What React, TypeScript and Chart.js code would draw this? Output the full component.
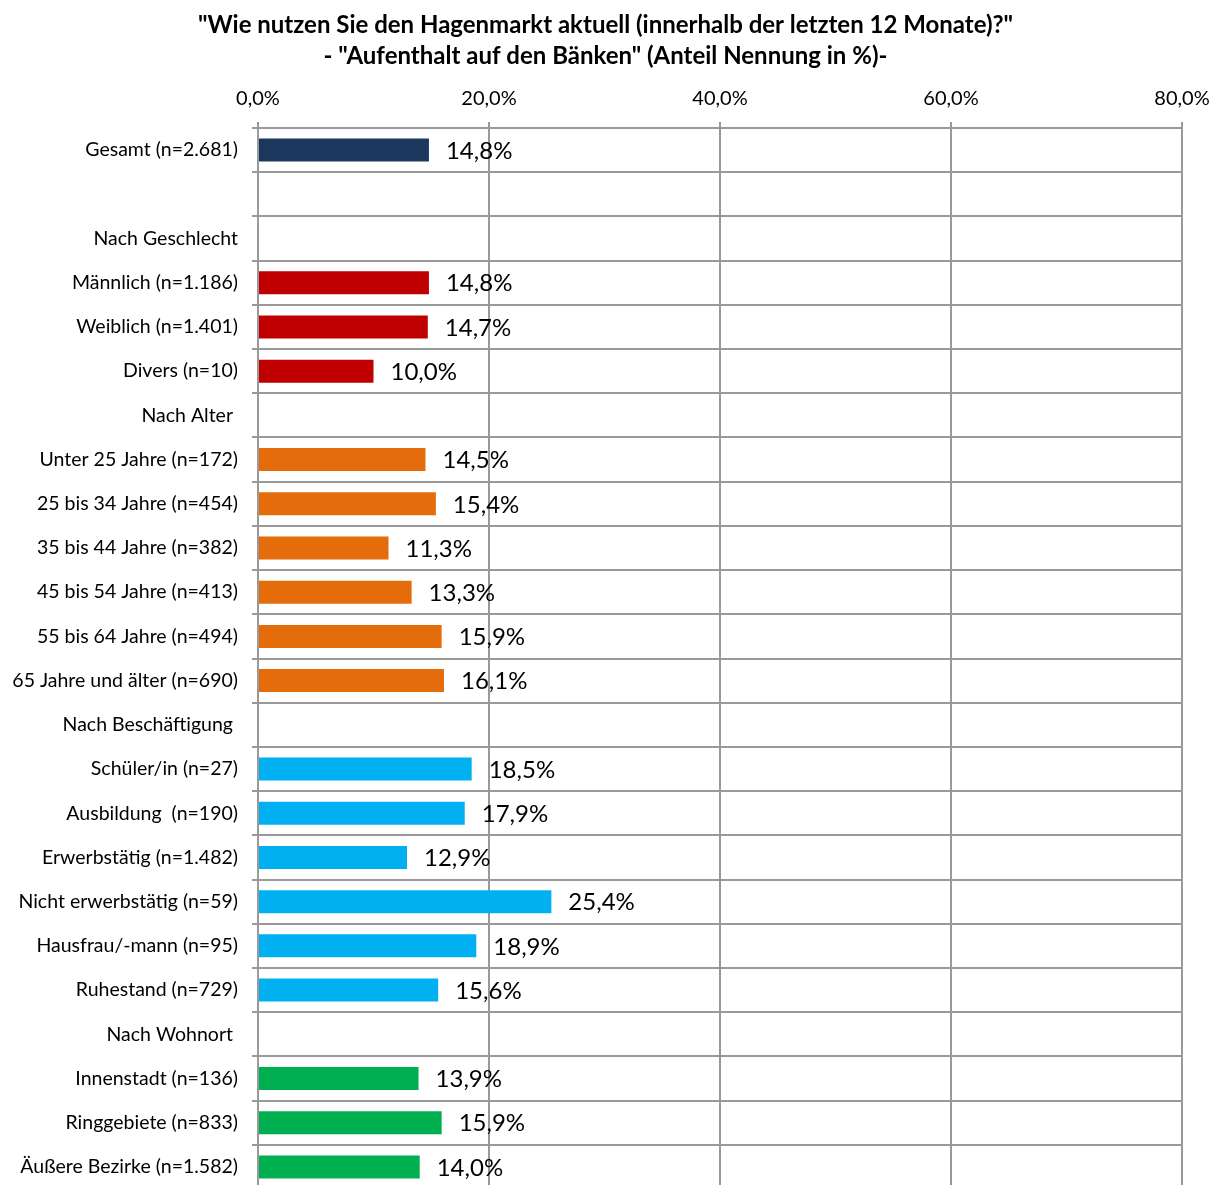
import React, { useEffect, useRef } from "react";
import { Chart, registerables } from "chart.js";

Chart.register(...registerables);

const categories: string[] = [
  "Gesamt (n=2.681)",
  "",
  "Nach Geschlecht",
  "Männlich (n=1.186)",
  "Weiblich (n=1.401)",
  "Divers (n=10)",
  "Nach Alter ",
  "Unter 25 Jahre (n=172)",
  "25 bis 34 Jahre (n=454)",
  "35 bis 44 Jahre (n=382)",
  "45 bis 54 Jahre (n=413)",
  "55 bis 64 Jahre (n=494)",
  "65 Jahre und älter (n=690)",
  "Nach Beschäftigung ",
  "Schüler/in (n=27)",
  "Ausbildung  (n=190)",
  "Erwerbstätig (n=1.482)",
  "Nicht erwerbstätig (n=59)",
  "Hausfrau/-mann (n=95)",
  "Ruhestand (n=729)",
  "Nach Wohnort ",
  "Innenstadt (n=136)",
  "Ringgebiete (n=833)",
  "Äußere Bezirke (n=1.582)",
];

const values: (number | null)[] = [
  14.8, null, null, 14.8, 14.7, 10.0, null, 14.5, 15.4, 11.3, 13.3, 15.9, 16.1,
  null, 18.5, 17.9, 12.9, 25.4, 18.9, 15.6, null, 13.9, 15.9, 14.0,
];

const groups: string[] = [
  "gesamt", "", "", "geschlecht", "geschlecht", "geschlecht", "", "alter", "alter",
  "alter", "alter", "alter", "alter", "", "beruf", "beruf", "beruf", "beruf", "beruf",
  "beruf", "", "wohnort", "wohnort", "wohnort",
];

const groupColors: Record<string, string> = {
  gesamt: "#1b375e",
  geschlecht: "#c00000",
  alter: "#e46c0a",
  beruf: "#00b0f0",
  wohnort: "#00b050",
  "": "#ffffff",
};

const xTicks: number[] = [0, 20, 40, 60, 80];

const titleLines: string[] = [
  "\"Wie nutzen Sie den Hagenmarkt aktuell (innerhalb der letzten 12 Monate)?\"",
  "- \"Aufenthalt auf den Bänken\" (Anteil Nennung in %)-",
];

const fmt = (v: number) => v.toFixed(1).replace(".", ",") + "%";

const FONT = "Lato, 'Noto Sans', sans-serif";

const valueLabels = {
  id: "valueLabels",
  afterDatasetsDraw(chart: any) {
    const ctx = chart.ctx;
    const meta = chart.getDatasetMeta(0);
    ctx.save();
    ctx.font = `24px ${FONT}`;
    ctx.fillStyle = "#000";
    ctx.textAlign = "left";
    ctx.textBaseline = "middle";
    meta.data.forEach((el: any, i: number) => {
      const v = values[i];
      if (v === null || v === undefined) return;
      ctx.fillText(fmt(v), el.x + 17, el.y + 1);
    });
    ctx.restore();
  },
};

const titleDraw = {
  id: "titleDraw",
  afterDraw(chart: any) {
    const ctx = chart.ctx;
    ctx.save();
    ctx.font = `bold 24px ${FONT}`;
    ctx.fillStyle = "#000";
    ctx.textAlign = "center";
    ctx.textBaseline = "middle";
    titleLines.forEach((line, i) => {
      ctx.fillText(line, chart.width / 2, 25 + i * 31);
    });
    ctx.restore();
  },
};

export default function App() {
  const ref = useRef<HTMLCanvasElement | null>(null);
  useEffect(() => {
    if (!ref.current) return;
    const chart = new Chart(ref.current, {
      type: "bar",
      data: {
        labels: categories,
        datasets: [
          {
            data: values as any,
            backgroundColor: groups.map((g) => groupColors[g]),
            categoryPercentage: 1,
            barPercentage: 0.52,
          },
        ],
      },
      options: {
        indexAxis: "y",
        responsive: false,
        animation: false,
        devicePixelRatio: 1,
        layout: { padding: { left: 0, right: 29, top: 78, bottom: 1 } },
        plugins: {
          legend: { display: false },
          tooltip: { enabled: false },
          title: { display: false },
        },
        scales: {
          x: {
            position: "top",
            min: 0,
            max: 80,
            afterBuildTicks: (scale: any) => {
              scale.ticks = xTicks.map((v) => ({ value: v }));
            },
            afterFit: (scale: any) => {
              scale.height = 50;
              scale.paddingLeft = 0;
              scale.paddingRight = 0;
            },
            ticks: {
              callback: (v: any) => fmt(Number(v)),
              color: "#000",
              font: { family: FONT, size: 20 },
              padding: 11,
              maxRotation: 0,
            },
            grid: { color: "#999999", lineWidth: 2, tickLength: 6 },
            border: { display: true, color: "#999999", width: 2 },
          },
          y: {
            afterFit: (scale: any) => {
              scale.width = 258;
              scale.paddingTop = 0;
              scale.paddingBottom = 0;
            },
            ticks: {
              color: "#000",
              font: { family: FONT, size: 19.5 },
              padding: 14,
              autoSkip: false,
            },
            grid: { offset: true, color: "#999999", lineWidth: 2, tickLength: 6 },
            border: { display: true, color: "#999999", width: 2 },
          },
        },
      },
      plugins: [valueLabels, titleDraw],
    });
    return () => chart.destroy();
  }, []);
  return (
    <div style={{ position: "absolute", left: 0, top: 0, width: 1211, height: 1190, background: "#fff" }}>
      <canvas ref={ref} width={1211} height={1190} />
    </div>
  );
}
